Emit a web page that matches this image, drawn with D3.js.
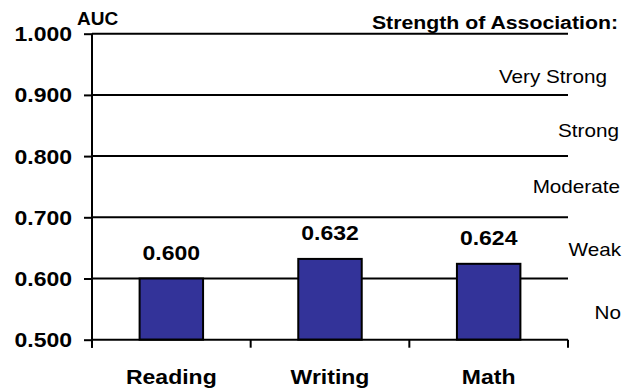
<!DOCTYPE html>
<html>
<head>
<meta charset="utf-8">
<script src="https://cdn.jsdelivr.net/npm/d3@7/dist/d3.min.js"></script>
<style>
  html, body { margin: 0; padding: 0; background: #fff; }
  svg { display: block; }
  text { font-family: "Liberation Sans", Arial, Helvetica, sans-serif; fill: #000; }
</style>
</head>
<body>
<svg id="chart" width="639" height="392"></svg>
<script>
// AUC by subject
const subjects = ["Reading", "Writing", "Math"];
const aucValues = [0.600, 0.632, 0.624];
const valueLabels = ["0.600", "0.632", "0.624"];

// Y axis ticks
const yTicks = [0.5, 0.6, 0.7, 0.8, 0.9, 1.0];
const yTickLabels = ["0.500", "0.600", "0.700", "0.800", "0.900", "1.000"];

// Strength-of-association bands (midpoint of each band on the AUC scale)
const zoneNames = ["Very Strong", "Strong", "Moderate", "Weak", "No"];
const zoneMids = [0.95, 0.85, 0.75, 0.65, 0.55];

// Layout
const plotLeft = 92, plotRight = 568, plotTop = 33.7, plotBottom = 339.7;
const sx = 1.15;                 // horizontal text stretch
const zoneDy = [12, 5, 0, 2, 3]; // fine vertical placement of band names (px)
const zoneEnd = [607, 619, 620, 621, 621];

const svg = d3.select("#chart");

const y = d3.scaleLinear().domain([0.5, 1.0]).range([plotBottom, plotTop]);
const xBand = d3.scaleBand().domain(subjects).range([plotLeft, plotRight]).padding(0);
const xBar = d3.scaleBand().domain(subjects).range([plotLeft, plotRight])
  .paddingInner(0.6).paddingOuter(0.3);

// helper for horizontally stretched text
function stretched(sel, x, yy, s = sx) {
  return sel.attr("transform", `translate(${x},${yy}) scale(${s},1)`);
}

// Gridlines
svg.append("g").selectAll("line")
  .data(yTicks.filter(d => d > 0.5))
  .join("line")
  .attr("x1", plotLeft).attr("x2", plotRight)
  .attr("y1", d => y(d)).attr("y2", d => y(d))
  .attr("stroke", "#000").attr("stroke-width", 2);

// Bars
svg.append("g").selectAll("rect")
  .data(subjects)
  .join("rect")
  .attr("x", d => xBar(d))
  .attr("width", xBar.bandwidth())
  .attr("y", (d, i) => y(aucValues[i]))
  .attr("height", (d, i) => y(0.5) - y(aucValues[i]))
  .attr("fill", "#333399")
  .attr("stroke", "#000")
  .attr("stroke-width", 2);

// Value labels
svg.append("g").selectAll("text")
  .data(subjects)
  .join("text")
  .each(function (d, i) {
    stretched(d3.select(this), xBar(d) + xBar.bandwidth() / 2, y(aucValues[i]) - 19);
  })
  .attr("text-anchor", "middle")
  .attr("font-size", 20)
  .attr("font-weight", "bold")
  .text((d, i) => valueLabels[i]);

// Y axis
const yAxis = d3.axisLeft(y)
  .tickValues(yTicks)
  .tickSize(8)
  .tickPadding(12)
  .tickFormat((d, i) => yTickLabels[i]);

const yg = svg.append("g").attr("transform", `translate(${plotLeft},0)`).call(yAxis);
yg.select(".domain").attr("stroke", "#000").attr("stroke-width", 2)
  .attr("d", `M0,${plotTop}V${plotBottom + 8}`);
yg.selectAll(".tick line").attr("stroke", "#000").attr("stroke-width", 2);
yg.selectAll(".tick text")
  .attr("x", null).attr("dy", null)
  .attr("font-size", 20).attr("font-weight", "bold")
  .attr("font-family", "'Liberation Sans', Arial, sans-serif")
  .attr("text-anchor", "end")
  .attr("transform", `translate(-20,7) scale(${sx},1)`);

// X axis (baseline with boundary ticks)
const xg = svg.append("g");
xg.append("line")
  .attr("x1", plotLeft).attr("x2", plotRight)
  .attr("y1", y(0.5)).attr("y2", y(0.5))
  .attr("stroke", "#000").attr("stroke-width", 2);
const bounds = subjects.map(d => xBand(d)).concat([xBand.range()[1]]);
xg.selectAll("line.bt")
  .data(bounds)
  .join("line")
  .attr("class", "bt")
  .attr("x1", d => d).attr("x2", d => d)
  .attr("y1", y(0.5)).attr("y2", y(0.5) + 8)
  .attr("stroke", "#000").attr("stroke-width", 2);
xg.selectAll("text")
  .data(subjects)
  .join("text")
  .each(function (d) {
    stretched(d3.select(this), xBand(d) + xBand.bandwidth() / 2, 384);
  })
  .attr("text-anchor", "middle")
  .attr("font-size", 20)
  .attr("font-weight", "bold")
  .text(d => d);

// Axis title
stretched(svg.append("text"), 77, 25, 1.0)
  .attr("font-size", 19)
  .attr("font-weight", "bold")
  .text("AUC");

// Band legend title
stretched(svg.append("text"), 618, 28.5)
  .attr("text-anchor", "end")
  .attr("font-size", 18.5)
  .attr("font-weight", "bold")
  .text("Strength of Association:");

// Band names
svg.append("g").selectAll("text")
  .data(zoneNames)
  .join("text")
  .each(function (d, i) {
    stretched(d3.select(this), zoneEnd[i], y(zoneMids[i]) + 6.5 + zoneDy[i]);
  })
  .attr("text-anchor", "end")
  .attr("font-size", 18)
  .text(d => d);
</script>
</body>
</html>
